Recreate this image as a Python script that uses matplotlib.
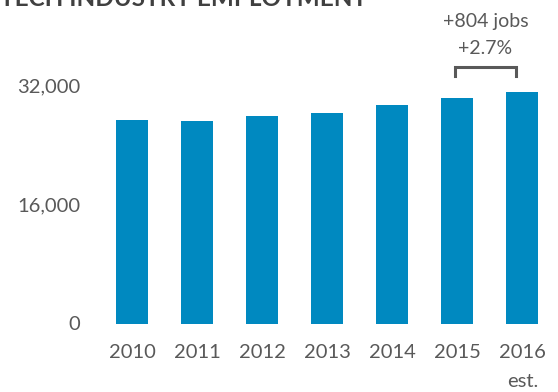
import matplotlib
matplotlib.use("Agg")
import matplotlib.pyplot as plt

years = ["2010", "2011", "2012", "2013", "2014", "2015", "2016\nest."]
employment = [27320, 27220, 27850, 28200, 29270, 30250, 31054]
yticks = [0, 16000, 32000]
ytick_labels = ["0", "16,000", "32,000"]
change_jobs = "+804 jobs"
change_pct = "+2.7%"
title = "TECH INDUSTRY EMPLOYMENT"

BAR = "#0089c0"
GREY = "#595959"
FONT = ["Lato", "DejaVu Sans"]
plt.rcParams["font.family"] = FONT

W, H = 558, 392
fig = plt.figure(figsize=(W / 100, H / 100), dpi=100)
left, right, bottom, top = 99.5, 554.8, 323.5, 85.0
ax = fig.add_axes([left / W, 1 - bottom / H, (right - left) / W, (bottom - top) / H])

x = list(range(len(years)))
ax.bar(x, employment, width=0.49, color=BAR, zorder=2)
ax.set_xlim(-0.5, len(years) - 0.5)
ax.set_ylim(0, 32000)

ax.set_yticks(yticks)
ax.set_yticklabels(ytick_labels)
ax.set_xticks(x)
ax.set_xticklabels(years, linespacing=1.8)
ax.tick_params(axis="y", length=0, pad=14, labelsize=14.5, labelcolor=GREY)
ax.tick_params(axis="x", length=0, pad=15, labelsize=14.5, labelcolor=GREY)
for lab in ax.get_xticklabels():
    lab.set_horizontalalignment("center")
    lab.set_multialignment("center")

for s in ax.spines.values():
    s.set_visible(False)

# bracket over the last two years
bx0, bx1 = 4.965, 5.903
by_top, by_leg = 34415, 33208
ax.plot([bx0, bx0, bx1, bx1], [by_leg, by_top, by_top, by_leg],
        color=GREY, lw=2.2, solid_joinstyle="miter", clip_on=False)
xc = (bx0 + bx1) / 2
ax.text(xc, 39822, change_jobs, ha="center", va="baseline", fontsize=14,
        color=GREY, clip_on=False)
ax.text(xc, 36151, change_pct, ha="center", va="baseline", fontsize=14,
        color=GREY, clip_on=False)

fig.text(0.0, 1 - 6 / H, title, ha="left", va="baseline", fontsize=17.5,
         fontweight="bold", color="#404040")

fig.savefig("out.png", dpi=100)
